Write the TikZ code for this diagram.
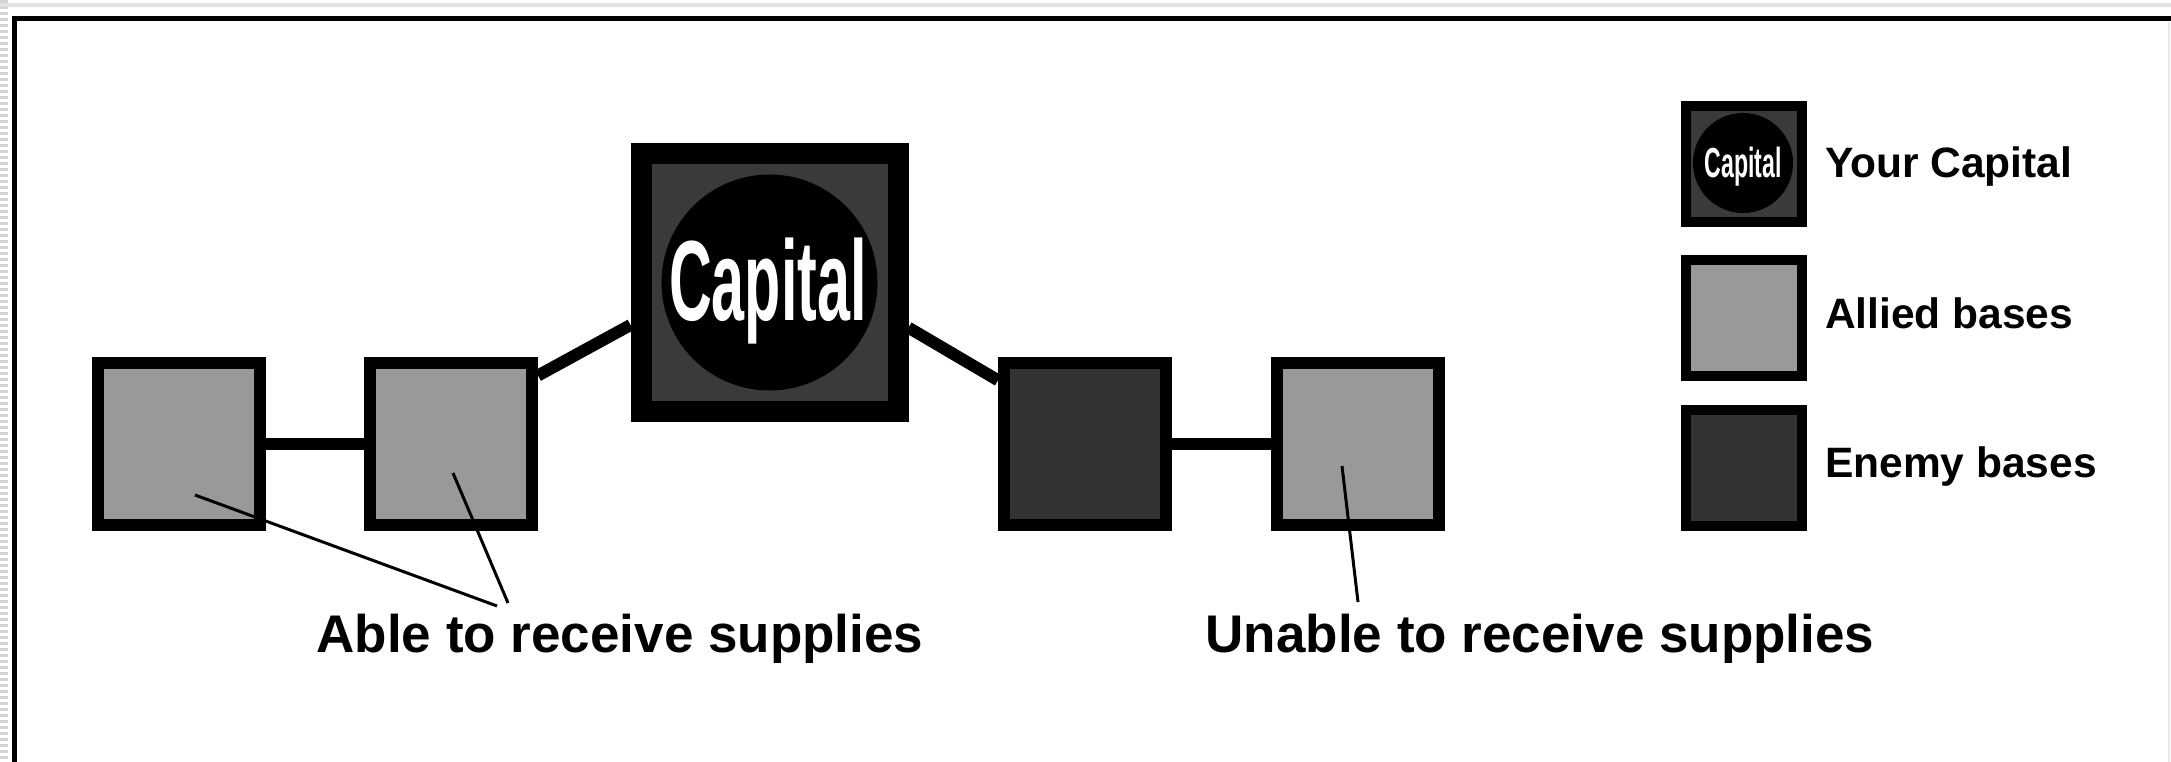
\documentclass[tikz,border=0pt]{standalone}
\usepackage{fontspec}
\usepackage{graphicx}
\setmainfont{Liberation Sans}
\usetikzlibrary{calc}

\definecolor{allied}{HTML}{999999}
\definecolor{enemy}{HTML}{333333}
\definecolor{capfill}{HTML}{3A3A3A}
\definecolor{edgegray}{HTML}{D4D4D4}

\tikzset{
  base/.style={rectangle, draw=black, line width=12pt, minimum size=162pt, inner sep=0pt},
  allybase/.style={base, fill=allied},
  enemybase/.style={base, fill=enemy},
  capbox/.style={rectangle, draw=black, fill=capfill, line width=21pt, minimum size=257pt, inner sep=0pt},
  capdisc/.style={circle, fill=black, minimum size=216pt, inner sep=0pt},
  keybox/.style={rectangle, draw=black, line width=10pt, minimum size=116pt, inner sep=0pt},
  keytext/.style={anchor=base west, inner sep=0pt, font=\bfseries\fontsize{42.5}{48}\selectfont},
  note/.style={anchor=base, inner sep=0pt, font=\bfseries\fontsize{53}{60}\selectfont},
  road/.style={line width=12pt},
  pointer/.style={line width=3pt},
  captext/.style={anchor=base, inner sep=0pt, text=white, font=\bfseries}
}

\begin{document}
\begin{tikzpicture}[x=1pt, y=-1pt]
\useasboundingbox (0,0) rectangle (2171,762);
\fill[white] (0,0) rectangle (2171,762);

% worn edges of the sheet
\draw[edgegray, line width=7pt, dash pattern=on 3pt off 3pt] (4,0) -- (4,762);
\draw[edgegray!70, line width=4pt] (0,5) -- (2171,5);
\draw[edgegray!60, line width=2pt] (2169,22) -- (2169,762);

% frame
\draw[line width=5pt] (14.5,762) -- (14.5,19) -- (2171,19);

% bases
\node[allybase] (b1) at (178.5,443.5) {};
\node[allybase] (b2) at (451,443.5) {};
\node[enemybase] (b3) at (1085,443.5) {};
\node[allybase] (b4) at (1358,443.5) {};

% capital
\node[capbox] (cap) at (769.5,282.5) {};
\node[capdisc] (capdisc) at (769.5,282.5) {};
\node[captext] (captxt) at (768,320) {\scalebox{0.52}[1]{\fontsize{114}{120}\selectfont Capital}};

% supply lines
\draw[road] (b1.east) -- (b2.west);
\draw[road] (b2.38) -- (cap.197);
\draw[road] (cap.342) -- (b3.144);
\draw[road] (b3.east) -- (b4.west);

% notes
\node[note] (able) at (620,652) {Able to receive supplies};
\node[note] (unable) at (1540,652) {Unable to receive supplies};

\coordinate (t1) at (195,495);
\coordinate (t2) at (453,473);
\coordinate (t4) at (1342,466);
\coordinate (e1) at (497,606);
\coordinate (e2) at (508,603);
\coordinate (e4) at (1358,602);
\draw[pointer] (t1) -- (e1);
\draw[pointer] (t2) -- (e2);
\draw[pointer] (t4) -- (e4);

% key
\node[keybox, fill=capfill] (k1) at (1744,164) {};
\node[circle, fill=black, minimum size=100pt, inner sep=0pt] (k1disc) at (1743,163) {};
\node[captext] (k1txt) at (1743,178) {\scalebox{0.55}[1]{\fontsize{42}{48}\selectfont Capital}};
\node[keybox, fill=allied] (k2) at (1744,317.5) {};
\node[keybox, fill=enemy] (k3) at (1744,468) {};

\node[keytext] (l1) at (1825,178) {Your Capital};
\node[keytext] (l2) at (1825,328) {Allied bases};
\node[keytext] (l3) at (1825,477) {Enemy bases};
\end{tikzpicture}
\end{document}
